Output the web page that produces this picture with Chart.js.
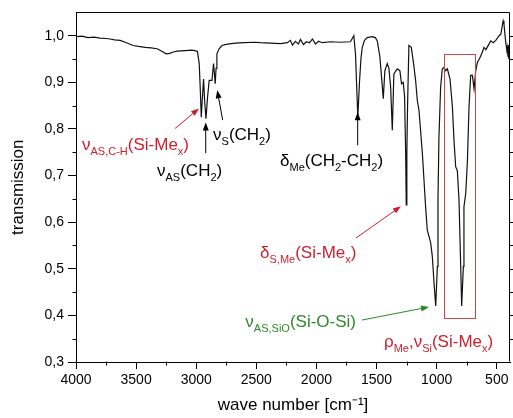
<!DOCTYPE html>
<html><head><meta charset="utf-8">
<script src="https://cdn.jsdelivr.net/npm/chart.js@4/dist/chart.umd.min.js"></script>
<style>html,body{margin:0;padding:0;background:#fff;}#wrap{width:513px;height:418px;}</style>
</head><body><div id="wrap"><canvas id="c" width="513" height="418"></canvas></div>
<script>
// ---- data ----
const wavenumbers = [4000,3950,3900,3850,3800,3750,3717,3680,3633,3580,3525,3480,3425,3375,3325,3283,3250,3220,3190,3158,3092,3040,3010,2990,2975,2967,2958,2948,2939,2930,2919,2905,2892,2869,2856,2849,2842,2835,2828,2810,2786,2740,2675,2600,2508,2467,2383,2300,2242,2217,2200,2175,2150,2133,2108,2083,2058,2033,2008,1983,1950,1883,1800,1717,1689,1675,1656,1642,1630,1619,1600,1578,1536,1510,1494,1472,1444,1431,1411,1397,1383,1369,1356,1328,1306,1292,1278,1267,1258,1253,1248,1242,1231,1211,1192,1175,1161,1147,1119,1092,1078,1050,1036,1022,1008,994,989,981,967,953,939,925,911,889,869,856,842,828,814,800,792,778,773,758,744,731,717,703,689,675,661,645,633,620,606,590,578,565,550,530,508,495,481,467,455,447,440,433,425,416,411,407,404,400,397,393,390];
const transmission = [0.998,0.999,0.996,0.997,0.995,0.994,0.993,0.991,0.990,0.985,0.979,0.977,0.975,0.974,0.972,0.966,0.961,0.962,0.965,0.967,0.968,0.969,0.968,0.966,0.94,0.89,0.825,0.87,0.907,0.86,0.822,0.87,0.904,0.904,0.94,0.92,0.897,0.93,0.961,0.972,0.979,0.982,0.984,0.985,0.986,0.985,0.984,0.983,0.985,0.990,0.980,0.988,0.982,0.992,0.981,0.987,0.985,0.993,0.982,0.988,0.985,0.987,0.986,0.987,1.000,0.960,0.825,0.900,0.950,0.975,0.990,0.996,0.998,0.996,0.989,0.954,0.865,0.925,0.940,0.930,0.890,0.797,0.918,0.929,0.925,0.897,0.900,0.870,0.75,0.637,0.75,0.850,0.979,0.975,0.940,0.904,0.861,0.840,0.748,0.633,0.583,0.556,0.526,0.470,0.420,0.505,0.647,0.783,0.890,0.929,0.932,0.925,0.929,0.907,0.847,0.776,0.719,0.710,0.647,0.505,0.420,0.505,0.633,0.662,0.733,0.847,0.915,0.915,0.886,0.925,0.943,0.950,0.957,0.965,0.975,0.970,0.976,0.982,0.989,0.985,0.990,0.995,1.000,1.003,1.020,1.032,1.025,1.005,0.985,0.968,0.975,0.955,0.980,0.950,0.975,0.955,0.960];
const xTickValues = [4000,3500,3000,2500,2000,1500,1000,500];
const xMinorTicks = [3750,3250,2750,2250,1750,1250,750];
const yTickValues = [0.3,0.4,0.5,0.6,0.7,0.8,0.9,1.0];
const yMinorTicks = [0.35,0.45,0.55,0.65,0.75,0.85,0.95];
const xRange = [390, 4000];
const yRange = [0.3, 1.05];

// ---- annotations (positions in data coordinates) ----
const RED = '#cc1f2d', GREEN = '#2a8a2a', BLACK = '#000';
const labels = [
  {text:'ν_{AS,C-H}(Si-Me_{x})', wn:3950, t:0.754, color:RED},
  {text:'ν_{AS}(CH_{2})', wn:3326, t:0.699, color:BLACK},
  {text:'ν_{S}(CH_{2})', wn:2860, t:0.776, color:BLACK},
  {text:'δ_{Me}(CH_{2}-CH_{2})', wn:2303, t:0.720, color:BLACK},
  {text:'δ_{S,Me}(Si-Me_{x})', wn:2469, t:0.523, color:RED},
  {text:'ν_{AS,SiO}(Si-O-Si)', wn:1671, t:0.375, color:GREEN, align:'right'},
  {text:'ρ_{Me},ν_{Si}(Si-Me_{x})', wn:1438, t:0.332, color:RED}
];
const arrows = [
  {from:[3176,0.801], to:[2977,0.844], color:RED},
  {from:[2921,0.748], to:[2921,0.814], color:BLACK},
  {from:[2780,0.819], to:[2825,0.883], color:BLACK},
  {from:[1657,0.765], to:[1657,0.836], color:BLACK},
  {from:[1671,0.566], to:[1297,0.634], color:RED},
  {from:[1621,0.390], to:[1064,0.418], color:GREEN}
];
const box = {wn1:943, wn2:681, t1:0.960, t2:0.394, color:'#c84848'};

const FONT = "'Liberation Sans', Arial, sans-serif";

function parseRich(s){
  const segs=[]; const re=/_\{([^}]*)\}/g; let last=0,m;
  while((m=re.exec(s))){ if(m.index>last) segs.push({t:s.slice(last,m.index)}); segs.push({t:m[1],sub:true}); last=re.lastIndex; }
  if(last<s.length) segs.push({t:s.slice(last)});
  return segs;
}
function drawRich(ctx, s, x, y, color, align){
  const segs=parseRich(s);
  const main='17px '+FONT, sub='11px '+FONT;
  let w=0; for(const g of segs){ctx.font=g.sub?sub:main; w+=ctx.measureText(g.t).width;}
  let cx = align==='right'? x-w : x;
  ctx.fillStyle=color; ctx.textAlign='left'; ctx.textBaseline='alphabetic';
  for(const g of segs){ctx.font=g.sub?sub:main; ctx.fillText(g.t,cx,y+(g.sub?5:0)); cx+=ctx.measureText(g.t).width;}
}
function drawArrow(ctx,x1,y1,x2,y2,color){
  const ang=Math.atan2(y2-y1,x2-x1), L=8, W=3;
  ctx.strokeStyle=color; ctx.fillStyle=color; ctx.lineWidth=1;
  ctx.beginPath(); ctx.moveTo(x1,y1); ctx.lineTo(x2-Math.cos(ang)*L*0.8,y2-Math.sin(ang)*L*0.8); ctx.stroke();
  ctx.beginPath(); ctx.moveTo(x2,y2);
  ctx.lineTo(x2-L*Math.cos(ang)+W*Math.sin(ang), y2-L*Math.sin(ang)-W*Math.cos(ang));
  ctx.lineTo(x2-L*Math.cos(ang)-W*Math.sin(ang), y2-L*Math.sin(ang)+W*Math.cos(ang));
  ctx.closePath(); ctx.fill();
}

const extras = {
  id:'extras',
  afterDraw(chart){
    const {ctx, chartArea:a, scales:{x,y}} = chart;
    ctx.save();
    ctx.strokeStyle='#000'; ctx.lineWidth=1;
    const L=Math.round(a.left)+0.5, R=Math.round(a.right)-0.5, T=Math.round(a.top)+0.5, B=Math.round(a.bottom)-0.5;
    ctx.beginPath(); ctx.moveTo(L,T); ctx.lineTo(R,T); ctx.lineTo(R,B); ctx.stroke();
    ctx.beginPath();
    for(const v of yMinorTicks){ const py=Math.round(y.getPixelForValue(v))+0.5; ctx.moveTo(L-4,py); ctx.lineTo(L,py); }
    for(const v of xMinorTicks){ const px=Math.round(x.getPixelForValue(v))+0.5; ctx.moveTo(px,B); ctx.lineTo(px,B+4); }
    for(const v of yMinorTicks.concat(yTickValues.slice(1))){ const py=Math.round(y.getPixelForValue(v))+0.5; ctx.moveTo(R,py); ctx.lineTo(R+5,py); }
    ctx.stroke();
    ctx.strokeStyle=box.color; ctx.lineWidth=1;
    const bx1=Math.round(x.getPixelForValue(box.wn1))+0.5, bx2=Math.round(x.getPixelForValue(box.wn2))+0.5;
    const by1=Math.round(y.getPixelForValue(box.t1))+0.5, by2=Math.round(y.getPixelForValue(box.t2))+0.5;
    ctx.strokeRect(bx1,by1,bx2-bx1,by2-by1);
    for(const ar of arrows){
      drawArrow(ctx, x.getPixelForValue(ar.from[0]), y.getPixelForValue(ar.from[1]), x.getPixelForValue(ar.to[0]), y.getPixelForValue(ar.to[1]), ar.color);
    }
    for(const lb of labels){ drawRich(ctx, lb.text, x.getPixelForValue(lb.wn), y.getPixelForValue(lb.t), lb.color, lb.align); }
    ctx.restore();
  }
};

new Chart(document.getElementById('c'), {
  type:'line',
  data:{ datasets:[{
    data: wavenumbers.map((w,i)=>({x:w, y:transmission[i]})),
    borderColor:'#111', borderWidth:1.2, pointRadius:0, tension:0, fill:false
  }]},
  options:{
    responsive:false, animation:false, devicePixelRatio:1,
    layout:{padding:{top:12,right:3,left:0,bottom:0}},
    plugins:{legend:{display:false}, tooltip:{enabled:false}},
    scales:{
      x:{type:'linear', reverse:true, min:xRange[0], max:xRange[1],
        afterBuildTicks(s){ s.ticks = xTickValues.map(v=>({value:v})); },
        afterFit(s){ s.height=56; },
        border:{color:'#000', width:1},
        grid:{display:true, drawOnChartArea:false, drawTicks:true, tickLength:7, color:'#000'},
        ticks:{color:'#000', font:{family:FONT,size:14}, padding:3, maxRotation:0, autoSkip:false, callback:v=>String(v)},
        title:{display:true, text:'wave number [cm⁻¹]', color:'#000', font:{family:FONT,size:17}, padding:{top:0,bottom:2}}
      },
      y:{type:'linear', min:yRange[0], max:yRange[1],
        afterBuildTicks(s){ s.ticks = yTickValues.map(v=>({value:v})); },
        afterFit(s){ s.width=76; },
        border:{color:'#000', width:1},
        grid:{display:true, drawOnChartArea:false, drawTicks:true, tickLength:8, color:'#000'},
        ticks:{color:'#000', font:{family:FONT,size:14}, padding:4, autoSkip:false, callback:v=>v.toFixed(1).replace('.',',')},
        title:{display:true, text:'transmission', color:'#000', font:{family:FONT,size:17}, padding:{top:8,bottom:0}}
      }
    }
  },
  plugins:[extras]
});
</script></body></html>
